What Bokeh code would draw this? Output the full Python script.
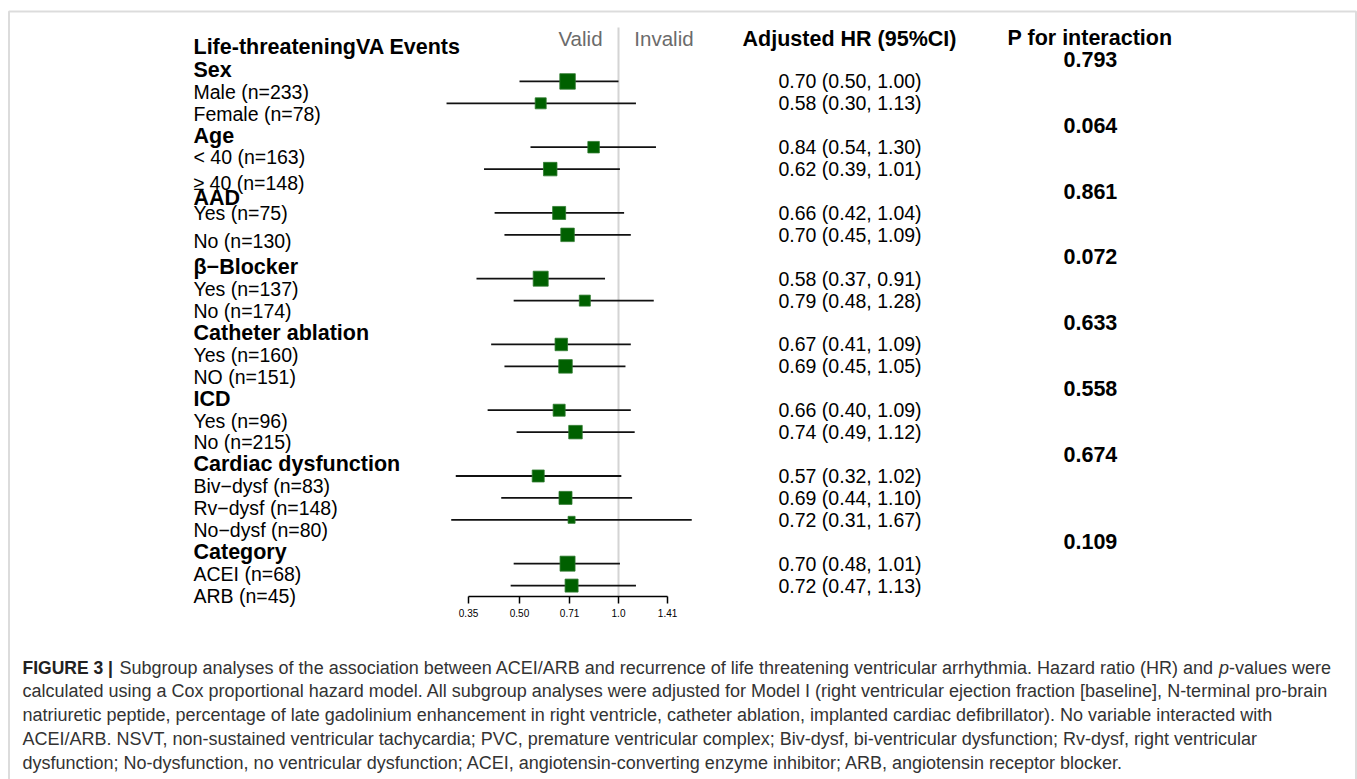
import math
from bokeh.plotting import figure
from bokeh.models import Range1d, LogScale, LogAxis, FixedTicker, BoxAnnotation
from bokeh.embed import file_html
from bokeh.resources import INLINE
from bokeh.core.properties import value

# ---------------- data ----------------
title_label = "Life-threateningVA Events"
groups = ["Sex", "Age", "AAD", "β−Blocker", "Catheter ablation", "ICD",
          "Cardiac dysfunction", "Category"]
p_interaction = ["0.793", "0.064", "0.861", "0.072", "0.633", "0.558", "0.674", "0.109"]
subgroups = [
    ["Male (n=233)", "Female (n=78)"],
    ["< 40 (n=163)", "≥ 40 (n=148)"],
    ["Yes (n=75)", "No (n=130)"],
    ["Yes (n=137)", "No (n=174)"],
    ["Yes (n=160)", "NO (n=151)"],
    ["Yes (n=96)", "No (n=215)"],
    ["Biv−dysf (n=83)", "Rv−dysf (n=148)", "No−dysf (n=80)"],
    ["ACEI (n=68)", "ARB (n=45)"],
]
hr = [0.70, 0.58, 0.84, 0.62, 0.66, 0.70, 0.58, 0.79, 0.67, 0.69,
      0.66, 0.74, 0.57, 0.69, 0.72, 0.70, 0.72]
lower = [0.50, 0.30, 0.54, 0.39, 0.42, 0.45, 0.37, 0.48, 0.41, 0.45,
         0.40, 0.49, 0.32, 0.44, 0.31, 0.48, 0.47]
upper = [1.00, 1.13, 1.30, 1.01, 1.04, 1.09, 0.91, 1.28, 1.09, 1.05,
         1.09, 1.12, 1.02, 1.10, 1.67, 1.01, 1.13]
tick_values = [0.35, 0.50, 0.71, 1.0, 1.41]
tick_labels = ["0.35", "0.50", "0.71", "1.0", "1.41"]
caption_first = ["FIGURE 3 |",
                 "Subgroup analyses of the association between ACEI/ARB and recurrence of life threatening ventricular arrhythmia. Hazard ratio (HR) and",
                 "p", "-values were"]
caption_lines = [
    "calculated using a Cox proportional hazard model. All subgroup analyses were adjusted for Model I (right ventricular ejection fraction [baseline], N-terminal pro-brain",
    "natriuretic peptide, percentage of late gadolinium enhancement in right ventricle, catheter ablation, implanted cardiac defibrillator). No variable interacted with",
    "ACEI/ARB. NSVT, non-sustained ventricular tachycardia; PVC, premature ventricular complex; Biv-dysf, bi-ventricular dysfunction; Rv-dysf, right ventricular",
    "dysfunction; No-dysfunction, no ventricular dysfunction; ACEI, angiotensin-converting enzyme inhibitor; ARB, angiotensin receptor blocker.",
]

# ---------------- styles / layout ----------------
box_sizes = [15.5, 11, 11.5, 13.5, 13, 13.5, 15, 11, 12.5, 13.5,
             12, 13.5, 12, 13, 7, 15, 13]
W, H = 1357, 779
ROW0, ROWH = 59.0, 21.92          # pixel y of row 0 and row height
PX_PER_LN = 49.5 / math.log(math.sqrt(2))
X_ONE = 618.0                     # pixel x of HR = 1
AXIS_Y = 596

FONT = value("Liberation Sans")

# row indices
group_rows, sub_rows = [], []
r = 0
for g, subs in zip(groups, subgroups):
    group_rows.append(r)
    r += 1
    for s in subs:
        sub_rows.append(r)
        r += 1

# label vertical positions (row units); most sit half a row below their row
label_shift = {"≥ 40 (n=148)": 0.62, "AAD": 0.3, "Yes (n=75)": 0.0, "No (n=130)": 0.3}
left_text, left_y, left_bold = [title_label], [-0.55], [True]
r = 0
for g, subs in zip(groups, subgroups):
    left_text.append(g); left_y.append(r + label_shift.get(g, 0.47)); left_bold.append(True)
    r += 1
    for s in subs:
        left_text.append(s); left_y.append(r + label_shift.get(s, 0.47)); left_bold.append(False)
        r += 1

p = figure(width=W, height=H, output_backend="svg", toolbar_location=None, tools="",
           x_range=Range1d(0, W), y_range=Range1d(H, 0),
           x_axis_location=None, y_axis_location=None, min_border=0)
p.xgrid.visible = False
p.ygrid.visible = False
p.outline_line_color = None
p.background_fill_color = "white"
p.border_fill_color = "white"

lo = math.exp(-X_ONE / PX_PER_LN)
hi = math.exp((W - X_ONE) / PX_PER_LN)
p.extra_x_ranges = {"hr": Range1d(lo, hi)}
p.extra_x_scales = {"hr": LogScale()}
p.extra_y_ranges = {"rows": Range1d((H - ROW0) / ROWH, -ROW0 / ROWH)}

# frame border
p.add_layout(BoxAnnotation(left=8.5, right=1355.5, top=11, bottom=H + 20,
                           fill_color=None, line_color="#8a8a8a", line_width=2))

# reference line at HR = 1
p.segment(x0=[1.0], x1=[1.0], y0=[27], y1=[AXIS_Y], x_range_name="hr",
          line_color="#d4d4d4", line_width=2)

# confidence intervals & boxes
p.segment(x0=lower, x1=upper, y0=sub_rows, y1=sub_rows, x_range_name="hr",
          y_range_name="rows", line_color="#111111", line_width=1.8)
p.scatter(x=hr, y=sub_rows, size=box_sizes, marker="square", x_range_name="hr",
          y_range_name="rows", fill_color="#006000", line_color="#2f7a2f", line_width=0.8)

# axis
ax = LogAxis(x_range_name="hr", ticker=FixedTicker(ticks=tick_values),
             bounds=(tick_values[0], tick_values[-1]), fixed_location=AXIS_Y)
ax.major_label_overrides = {v: l for v, l in zip(tick_values, tick_labels)}
ax.major_tick_in = 0
ax.major_tick_out = 7
ax.minor_tick_in = 0
ax.minor_tick_out = 0
ax.axis_line_width = 1.5
ax.major_tick_line_width = 1.5
ax.axis_line_color = "black"
ax.major_tick_line_color = "black"
ax.major_label_text_font = "Liberation Sans"
ax.major_label_text_font_size = "10px"
ax.major_label_text_color = "black"
ax.major_label_standoff = 5
p.add_layout(ax, "below")

# left labels
bold_t = [t for t, b in zip(left_text, left_bold) if b]
bold_y = [y for y, b in zip(left_y, left_bold) if b]
norm_t = [t for t, b in zip(left_text, left_bold) if not b]
norm_y = [y for y, b in zip(left_y, left_bold) if not b]
p.text(x=[193] * len(bold_t), y=bold_y, text=bold_t, y_range_name="rows",
       text_font=FONT, text_font_size="21.5px", text_font_style="bold",
       text_color="black", text_align="left", text_baseline="middle")
p.text(x=[193] * len(norm_t), y=norm_y, text=norm_t, y_range_name="rows",
       text_font=FONT, text_font_size="19.5px", text_color="black",
       text_align="left", text_baseline="middle")

# HR texts
hr_text = [f"{h:.2f} ({l:.2f}, {u:.2f})" for h, l, u in zip(hr, lower, upper)]
p.text(x=[778] * len(hr_text), y=sub_rows, text=hr_text, y_range_name="rows",
       text_font=FONT, text_font_size="19.5px", text_color="black",
       text_align="left", text_baseline="middle")

# p for interaction
p.text(x=[1063] * len(p_interaction), y=group_rows, text=p_interaction, y_range_name="rows",
       text_font=FONT, text_font_size="21.5px", text_font_style="bold", text_color="black",
       text_align="left", text_baseline="middle")

# headers
p.text(x=[580, 663.5], y=[38, 38], text=["Valid", "Invalid"], text_font=FONT,
       text_font_size="20.5px", text_color="#6b6b6b", text_align="center", text_baseline="middle")
p.text(x=[849, 1089.5], y=[38, 37], text=["Adjusted HR (95%CI)", "P for interaction"],
       text_font=FONT, text_font_size="21.5px", text_font_style="bold", text_color="black",
       text_align="center", text_baseline="middle")

# caption
CS1 = 18.0
CS = 18.0
cap_y = [667, 690, 714, 738, 762]
seg_start = 119
seg_end = seg_start + 60.8 * CS1
p_x = seg_end + 0.278 * CS1
tail_x = p_x + 0.556 * CS1
p.text(x=[22], y=[cap_y[0]], text=[caption_first[0]], text_font=FONT, text_font_size="17.5px",
       text_font_style="bold", text_color="#222222", text_align="left", text_baseline="middle")
p.text(x=[seg_start], y=[cap_y[0]], text=[caption_first[1]],
       text_font=FONT, text_font_size=f"{CS1}px", text_color="#333333", text_align="left",
       text_baseline="middle")
p.text(x=[p_x], y=[cap_y[0]], text=[caption_first[2]], text_font=FONT, text_font_size=f"{CS1}px",
       text_font_style="italic", text_color="#333333", text_align="left", text_baseline="middle")
p.text(x=[tail_x], y=[cap_y[0]], text=[caption_first[3]], text_font=FONT,
       text_font_size=f"{CS1}px", text_color="#333333", text_align="left", text_baseline="middle")
p.text(x=[22] * len(caption_lines), y=cap_y[1:], text=caption_lines, text_font=FONT,
       text_font_size=f"{CS}px", text_color="#333333", text_align="left", text_baseline="middle")

open("out.html", "w").write(file_html(p, INLINE))
